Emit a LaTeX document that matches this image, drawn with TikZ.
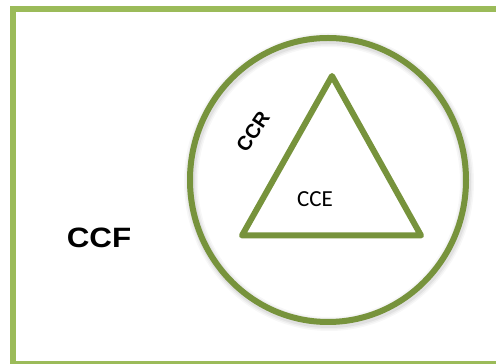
\documentclass[tikz,border=0pt]{standalone}
\usepackage{fontspec}
\setmainfont{Liberation Sans}
\newfontfamily\calfont{Carlito}
\definecolor{framegreen}{HTML}{9BBB59}
\definecolor{olivegreen}{HTML}{77933C}
\tikzset{
  frameline/.style={draw=framegreen, line width=6pt},
  shapeline/.style={draw=olivegreen, line width=6pt, line join=round},
  biglabel/.style={font=\bfseries\fontsize{28}{30}\selectfont, xscale=1.12},
  slantlabel/.style={font=\bfseries\fontsize{20}{22}\selectfont, rotate=56},
  innerlabel/.style={font=\calfont\fontsize{23}{25}\selectfont},
}
\begin{document}
\begin{tikzpicture}[x=1pt,y=1pt]
  \useasboundingbox (0,0) rectangle (496,364);
  \fill[white] (0,0) rectangle (496,364);
  % outer frame
  \draw[frameline] (13,0.3) rectangle (505,355);
  % soft shadow under the ring
  \foreach \w/\o in {14/0.03,11/0.04,8/0.05}
    \draw[black, opacity=\o, line width=\w pt] (329,182) ellipse [x radius=138, y radius=142];
  % ring
  \draw[shapeline] (328,184) ellipse [x radius=138, y radius=142];
  % triangle
  \coordinate (apex) at (332,288);
  \coordinate (left) at (242,128.5);
  \coordinate (right) at (421,128.5);
  \draw[shapeline] (apex) -- (left) -- (right) -- cycle;
  % labels
  \node[biglabel] (ccf) at (99,126) {CCF};
  \node[slantlabel] (ccr) at (253,232) {CCR};
  \node[innerlabel] (cce) at (315,165) {CCE};
\end{tikzpicture}
\end{document}
